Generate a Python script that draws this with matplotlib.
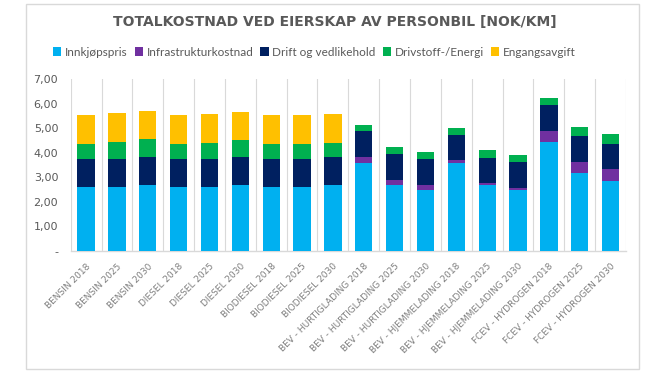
import matplotlib
matplotlib.use("Agg")
import matplotlib.pyplot as plt
from matplotlib.patches import Rectangle
import numpy as np

categories = ["BENSIN 2018", "BENSIN 2025", "BENSIN 2030",
              "DIESEL 2018", "DIESEL 2025", "DIESEL 2030",
              "BIODIESEL 2018", "BIODIESEL 2025", "BIODIESEL 2030",
              "BEV - HURTIGLADING 2018", "BEV - HURTIGLADING 2025", "BEV - HURTIGLADING 2030",
              "BEV - HJEMMELADING 2018", "BEV - HJEMMELADING 2025", "BEV - HJEMMELADING 2030",
              "FCEV - HYDROGEN 2018", "FCEV - HYDROGEN 2025", "FCEV - HYDROGEN 2030"]

innkjopspris = [2.61, 2.61, 2.68, 2.61, 2.61, 2.68, 2.61, 2.61, 2.68,
                3.59, 2.66, 2.47, 3.59, 2.66, 2.47, 4.43, 3.17, 2.84]
infrastruktur = [0, 0, 0, 0, 0, 0, 0, 0, 0,
                 0.23, 0.22, 0.19, 0.09, 0.09, 0.09, 0.46, 0.46, 0.48]
drift = [1.14, 1.14, 1.14, 1.14, 1.14, 1.14, 1.14, 1.14, 1.14,
         1.07, 1.05, 1.08, 1.05, 1.04, 1.04, 1.05, 1.05, 1.03]
drivstoff = [0.61, 0.67, 0.72, 0.59, 0.64, 0.69, 0.59, 0.59, 0.57,
             0.25, 0.28, 0.28, 0.26, 0.30, 0.30, 0.27, 0.38, 0.39]
engangsavgift = [1.17, 1.18, 1.17, 1.18, 1.18, 1.16, 1.18, 1.18, 1.18,
                 0, 0, 0, 0, 0, 0, 0, 0, 0]

series_names = ["Innkjøpspris", "Infrastrukturkostnad", "Drift og vedlikehold",
                "Drivstoff-/Energi", "Engangsavgift"]
series = [innkjopspris, infrastruktur, drift, drivstoff, engangsavgift]
colors = ["#00B0F0", "#7030A0", "#002060", "#00B050", "#FFC000"]

yticks = [0, 1, 2, 3, 4, 5, 6, 7]
ytick_labels = ["-", "1,00", "2,00", "3,00", "4,00", "5,00", "6,00", "7,00"]

grey = "#595959"
fig = plt.figure(figsize=(6.7, 3.77), dpi=100)
ax = fig.add_axes([70.7 / 670, 1 - 250.7 / 377, (626 - 70.7) / 670, (250.7 - 79) / 377])

x = np.arange(len(categories))
bottom = np.zeros(len(categories))
handles = []
for name, vals, c in zip(series_names, series, colors):
    v = np.array(vals, dtype=float)
    b = ax.bar(x, v, 0.56, bottom=bottom, color=c, label=name, edgecolor="none", zorder=3)
    handles.append(b)
    bottom += v

ax.set_xlim(-0.5, len(categories) - 0.5)
ax.set_ylim(0, 7)
for xv in np.arange(-0.5, len(categories), 1.0):
    ax.axvline(xv, color="#D9D9D9", lw=0.8, zorder=1)
for s in ["top", "right", "left"]:
    ax.spines[s].set_visible(False)
ax.spines["bottom"].set_color("#D9D9D9")
ax.spines["bottom"].set_linewidth(1.0)

ax.set_yticks(yticks)
ax.set_yticklabels(ytick_labels)
ax.tick_params(axis="y", length=0, pad=9, labelsize=8, labelcolor=grey)
ax.set_xticks(x)
ax.set_xticklabels(categories, rotation=45, ha="right", rotation_mode="anchor",
                   fontsize=6.5, color="#7F7F7F")
ax.tick_params(axis="x", length=0, pad=8)

fig.text(0.5, 1 - 22 / 377, "TOTALKOSTNAD VED EIERSKAP AV PERSONBIL [NOK/KM]",
         ha="center", va="center", fontsize=10, fontweight="bold", color=grey)

leg = fig.legend(handles=handles, labels=series_names, loc="center",
                 bbox_to_anchor=(0.469, 1 - 52 / 377), ncol=5, frameon=False,
                 prop={"family": "Lato", "size": 8.5},
                 handlelength=0.7, handleheight=0.7, handletextpad=0.3,
                 columnspacing=0.6)
for t in leg.get_texts():
    t.set_color(grey)

fig.patches.append(Rectangle((26 / 670, 1 - 369 / 377), (639 - 26) / 670, (369 - 4) / 377,
                             transform=fig.transFigure, fill=False,
                             edgecolor="#D9D9D9", lw=1.0))

fig.savefig("out.png", dpi=100)
